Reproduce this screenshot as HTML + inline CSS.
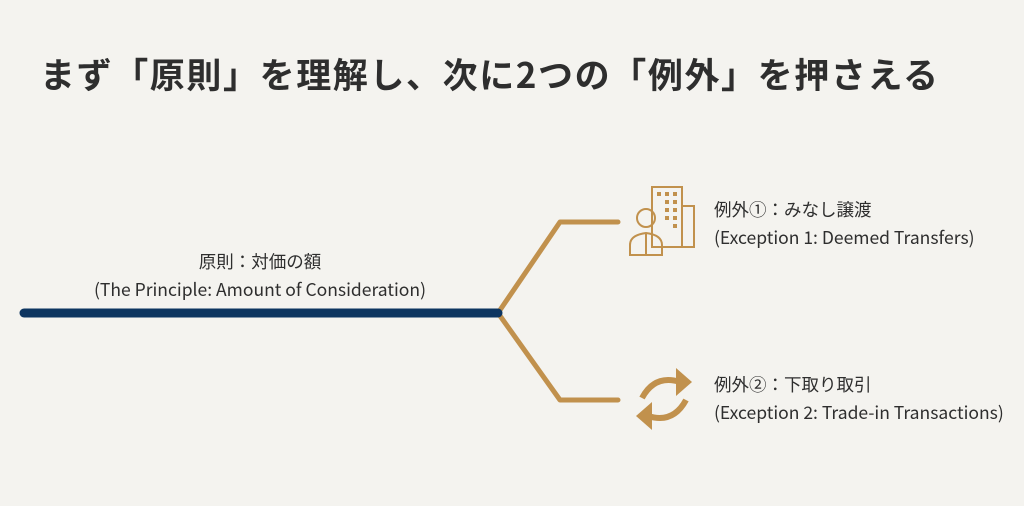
<!DOCTYPE html>
<html><head><meta charset="utf-8"><style>
body{margin:0;width:1024px;height:506px;background:#f4f3ef;overflow:hidden;position:relative;font-family:"Liberation Sans","Noto Sans CJK JP",sans-serif;color:#2e2e2e}
.t{position:absolute;left:40px;top:48px;font-size:35px;font-weight:bold;letter-spacing:1.6px;white-space:nowrap;font-family:"Noto Sans CJK JP",sans-serif}
.l{position:absolute;font-size:17.5px;line-height:28px;white-space:nowrap;font-family:"Noto Sans CJK JP",sans-serif}
</style></head><body>
<div class="t">まず「原則」を理解し、次に2つの「例外」を押さえる</div>
<div class="l" style="left:40px;width:440px;text-align:center;top:248px">原則：対価の額<br>(The Principle: Amount of Consideration)</div>
<div class="l" style="left:714px;top:196px">例外①：みなし譲渡<br>(Exception 1: Deemed Transfers)</div>
<div class="l" style="left:714px;top:371px">例外②：下取り取引<br>(Exception 2: Trade-in Transactions)</div>
<svg width="1024" height="506" style="position:absolute;left:0;top:0">
<g fill="none" stroke="#c1914d" stroke-width="5" stroke-linecap="round" stroke-linejoin="round">
<polyline points="498,313 560,222 618,222"/>
<polyline points="498,313 560,400 618,400"/>
</g>
<line x1="24" y1="313" x2="498" y2="313" stroke="#0d3560" stroke-width="9" stroke-linecap="round"/>
<g fill="none" stroke="#c1914d" stroke-width="2">
<rect x="652" y="187" width="30" height="60"/>
<path d="M682 206h12v41h-14"/>
<circle cx="646" cy="218" r="9"/>
<path d="M630 255v-10q0-10 16-12q16 2 16 12v10z"/>
<path d="M646 234v20"/>
</g>
<g fill="none" stroke="#c1914d" stroke-width="6" stroke-linejoin="round">
<path d="M680 382q-25-8-38 16"/>
<path d="M648 416q25 8 38-16"/>
</g>
<g fill="#c1914d">
<path d="M676 368l16 14-16 14z"/>
<path d="M652 402l-16 14 16 14z"/>
<rect x="657" y="192" width="4" height="4"/><rect x="665" y="192" width="4" height="4"/><rect x="673" y="192" width="4" height="4"/><rect x="665" y="200" width="4" height="4"/><rect x="673" y="200" width="4" height="4"/><rect x="665" y="208" width="4" height="4"/><rect x="673" y="208" width="4" height="4"/><rect x="665" y="216" width="4" height="4"/><rect x="673" y="216" width="4" height="4"/><rect x="673" y="224" width="4" height="4"/></g>
</svg>
</body></html>
